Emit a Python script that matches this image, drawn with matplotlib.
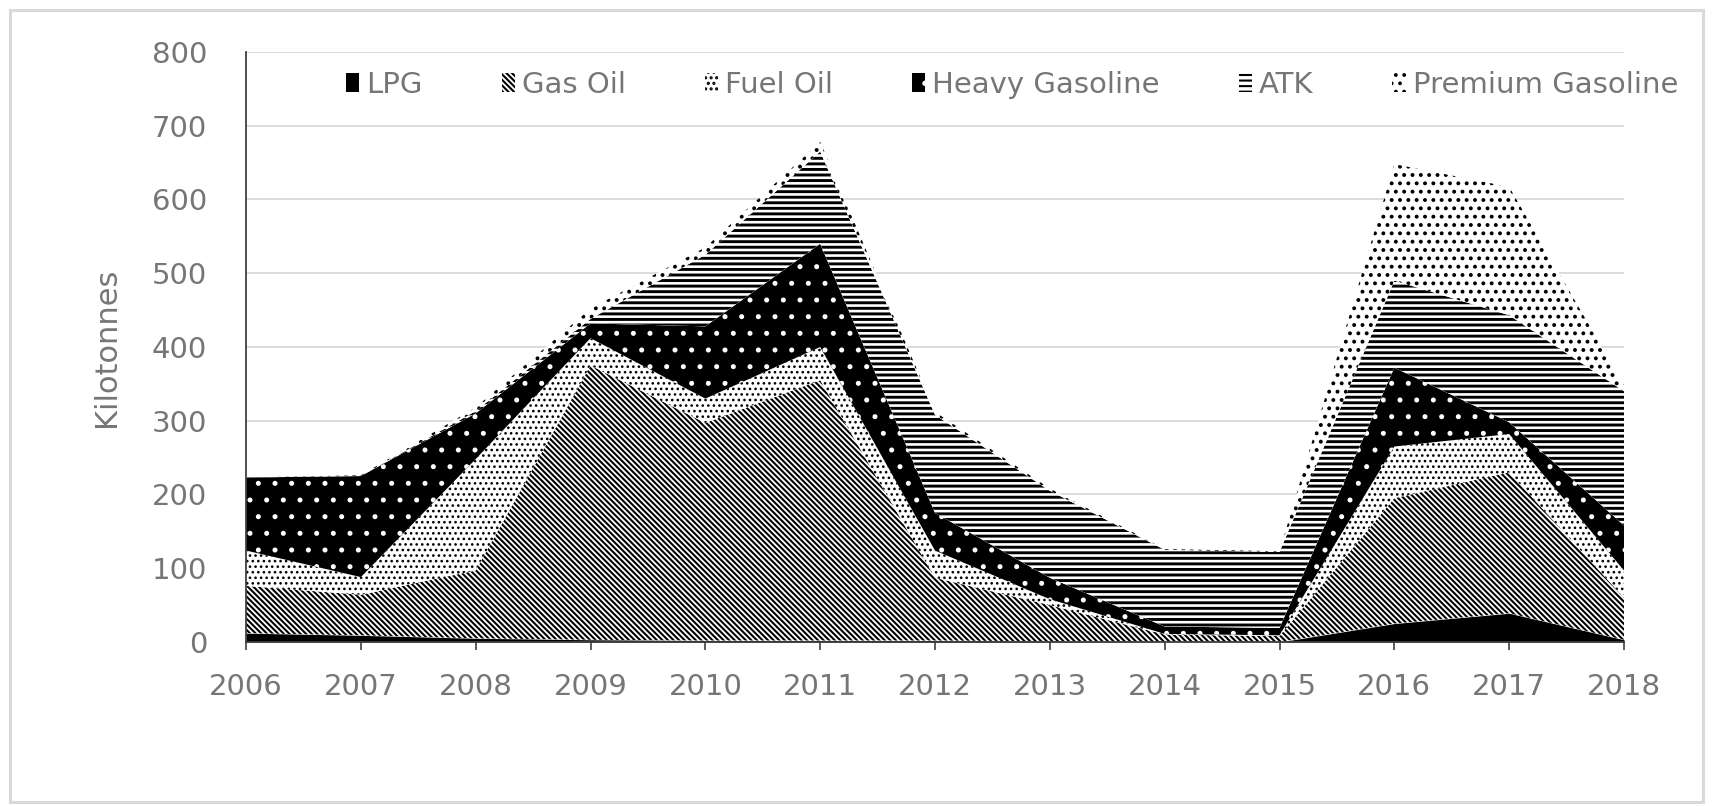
import matplotlib
matplotlib.use("Agg")
import matplotlib.pyplot as plt
import numpy as np
from matplotlib.patches import Rectangle

years = [2006, 2007, 2008, 2009, 2010, 2011, 2012, 2013, 2014, 2015, 2016, 2017, 2018]

# kilotonnes per product
lpg = [12, 9, 5, 3, 2, 2, 2, 1, 0, 0, 25, 39, 3]
gas_oil = [64, 55, 92, 372, 295, 353, 85, 49, 10, 8, 170, 191, 57]
fuel_oil = [48, 24, 151, 37, 33, 45, 37, 8, 1, 1, 70, 52, 37]
heavy_gasoline = [99, 137, 62, 20, 98, 140, 51, 29, 10, 10, 107, 16, 61]
atk = [0, 0, 3, 6, 97, 125, 133, 118, 104, 103, 118, 145, 182]
premium_gasoline = [0, 1, 5, 14, 10, 13, 4, 3, 1, 1, 158, 174, 8]

series_names = ["LPG", "Gas Oil", "Fuel Oil", "Heavy Gasoline", "ATK", "Premium Gasoline"]
series_vals = [lpg, gas_oil, fuel_oil, heavy_gasoline, atk, premium_gasoline]

# fill style per layer: facecolor, hatch colour, hatch, hatch linewidth
styles = [
    ("black", "black", None, 1.0),
    ("white", "black", "\\" * 6, 1.5),
    ("white", "black", "...", 1.1),
    ("black", "white", ".", 1.2),
    ("white", "black", "---", 2.1),
    ("white", "black", "..", 1.6),
]

txt_color = "#767676"
plt.rcParams["font.family"] = ["DejaVu Sans"]
plt.rcParams["hatch.linewidth"] = 1.5

fig = plt.figure(figsize=(17.12, 8.06), dpi=100)
ax = fig.add_axes([0.1437, 0.2035, 0.8049, 0.732])

x = np.array(years)
bottom = np.zeros(len(years))
for name, vals, (fc, hc, hatch, hlw) in zip(series_names, series_vals, styles):
    top = bottom + np.array(vals)
    with plt.rc_context({"hatch.linewidth": hlw}):
        coll = ax.fill_between(x, bottom, top, facecolor=fc, edgecolor=hc,
                               hatch=hatch, linewidth=0, label=name, zorder=2)
    if hasattr(coll, "set_hatch_linewidth"):
        coll.set_hatch_linewidth(hlw)
    else:
        coll._hatch_linewidth = hlw
    bottom = top

ax.set_xlim(2006, 2018)
ax.set_ylim(0, 800)
ax.set_xticks(years)
ax.set_yticks(range(0, 801, 100))
ax.yaxis.grid(True, color="#d9d9d9", linewidth=1.3, zorder=0)
ax.set_axisbelow(True)

for s in ["top", "right"]:
    ax.spines[s].set_visible(False)
ax.spines["left"].set_color("#404040")
ax.spines["left"].set_linewidth(1.3)
ax.spines["bottom"].set_color("#404040")
ax.spines["bottom"].set_linewidth(1.3)

ax.tick_params(axis="x", direction="out", length=6, width=1.2, color="#404040",
               pad=16, labelsize=21, labelcolor=txt_color)
ax.tick_params(axis="y", length=0, pad=28, labelsize=21, labelcolor=txt_color)

ax.set_ylabel("Kilotonnes", fontsize=22, color=txt_color, labelpad=22)

leg = ax.legend(loc="center", bbox_to_anchor=(0.556, 0.944), ncol=6,
                frameon=False, fontsize=21, handlelength=0.45,
                handleheight=0.6, handletextpad=0.25, columnspacing=2.7,
                borderaxespad=0)
for t in leg.get_texts():
    t.set_color(txt_color)

# light grey chart-area border
fig.patches.append(Rectangle((0.0058, 0.005), 0.989, 0.9826, transform=fig.transFigure,
                             fill=False, edgecolor="#d9d9d9", linewidth=2.2))

fig.savefig("out.png", dpi=100)
